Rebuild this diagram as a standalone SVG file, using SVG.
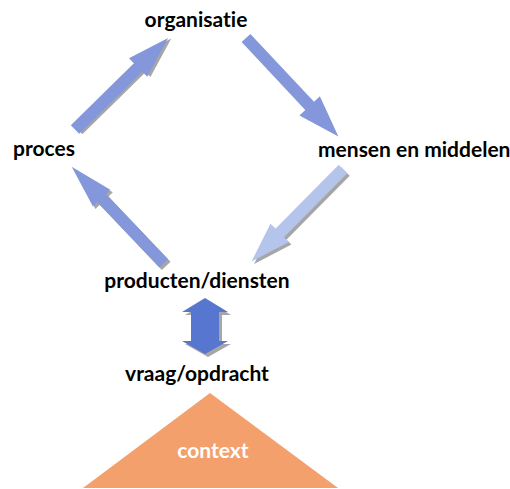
<svg xmlns="http://www.w3.org/2000/svg" width="510" height="489" viewBox="0 0 510 489">
<style>
  .lbl{font-family:Lato,"Liberation Sans",sans-serif;font-weight:bold;font-size:21px;fill:#000;font-variant-ligatures:none;font-feature-settings:"liga" 0,"clig" 0}
  .mid{text-anchor:middle}
  .arr{fill:#8497DB}
  .arrl{fill:#B4C4EB}
  .shd{fill:#A6A6A6}
</style>
<rect width="510" height="489" fill="#fff"/>
<g id="connectors">
  <g id="arrow-proces-organisatie" transform="translate(75,129.5) rotate(-44.5)">
    <polygon class="shd" transform="translate(2,2.5)" points="0,-6 88.5,-6 88.5,-13 130.5,0 88.5,13 88.5,6 0,6"/>
    <polygon class="arr" points="0,-6 88.5,-6 88.5,-13 130.5,0 88.5,13 88.5,6 0,6"/>
  </g>
  <g id="arrow-organisatie-mensen" transform="translate(246,38) rotate(46.8)">
    <polygon class="arr" points="0,-6 93,-6 93,-14 135,0 93,14 93,6 0,6"/>
  </g>
  <g id="arrow-mensen-producten" transform="translate(343,169) rotate(134.7)">
    <polygon class="shd" transform="rotate(-134.7) translate(2.5,2.5) rotate(134.7)" points="0,-6 90,-6 90,-13 130,0 90,13 90,6 0,6"/>
    <polygon class="arrl" points="0,-6 90,-6 90,-13 130,0 90,13 90,6 0,6"/>
  </g>
  <g id="arrow-producten-proces" transform="translate(163.7,263.3) rotate(-133.6)">
    <polygon class="shd" transform="rotate(133.6) translate(2.5,2.5) rotate(-133.6)" points="0,-6 90,-6 90,-12 133.4,0 90,12 90,6 0,6"/>
    <polygon class="arr" points="0,-6 90,-6 90,-12 133.4,0 90,12 90,6 0,6"/>
  </g>
  <g id="arrow-producten-vraag">
    <polygon class="shd" transform="translate(3,3)" points="205,298 228,312 219,312 219,341 228,341 205,354 182,341 191,341 191,312 182,312"/>
    <polygon fill="#5676CF" points="205,298 228,312 219,312 219,341 228,341 205,354 182,341 191,341 191,312 182,312"/>
  </g>
</g>
<g id="node-organisatie"><text class="lbl mid" x="196" y="27">organisatie</text></g>
<g id="node-proces"><text class="lbl" x="13" y="156">proces</text></g>
<g id="node-mensen"><text class="lbl" x="318" y="157">mensen en middelen</text></g>
<g id="node-producten"><text class="lbl mid" x="197" y="288">producten/diensten</text></g>
<g id="node-vraag"><text class="lbl mid" x="197" y="381">vraag/opdracht</text></g>
<g id="node-context">
  <polygon fill="#F4A06C" points="210,393 338,488 83,488"/>
  <text class="lbl mid" x="213" y="458" style="fill:#fff">context</text>
</g>
</svg>
